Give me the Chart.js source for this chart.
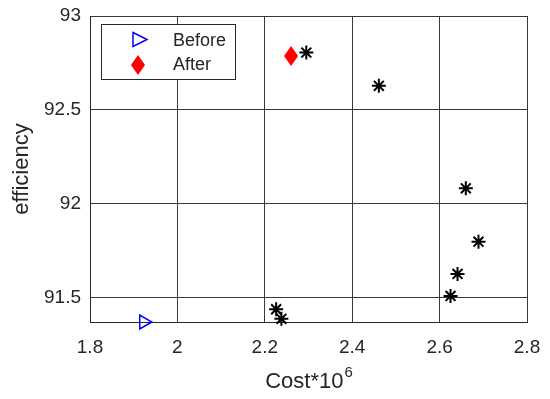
<!DOCTYPE html>
<html lang="en">
<head>
  <meta charset="UTF-8">
  <title>Cost vs efficiency</title>
  <script src="https://cdn.jsdelivr.net/npm/chart.js"></script>
  <style>
    html, body { margin: 0; padding: 0; background: #fff; }
    #wrap { width: 550px; height: 399px; position: relative; }
  </style>
</head>
<body>
  <div id="wrap"><canvas id="myChart"></canvas></div>

  <script>
    // values
    var beforeCost = [1.923];
    var beforeEff = [91.37];
    var afterCost = [2.26];
    var afterEff = [92.787];
    var paretoCost = [2.295, 2.461, 2.660, 2.689, 2.641, 2.625, 2.226, 2.238];
    var paretoEff = [92.805, 92.628, 92.082, 91.798, 91.626, 91.509, 91.438, 91.387];
    var xTicks = [1.8, 2, 2.2, 2.4, 2.6, 2.8];
    var yTicks = [91.5, 92, 92.5, 93];

    var FONT = "'Liberation Sans', Arial, sans-serif";
    var TXT = '#262626';

    function toPoints(xs, ys) {
      return xs.map(function (x, i) { return { x: x, y: ys[i] }; });
    }

    // tall red diamond like the matlab marker
    function makeDiamond(w, h) {
      var c = document.createElement('canvas');
      c.width = w; c.height = h;
      var g = c.getContext('2d');
      g.fillStyle = '#ff0000';
      g.beginPath();
      g.moveTo(w / 2, 0);
      g.lineTo(w, h / 2);
      g.lineTo(w / 2, h);
      g.lineTo(0, h / 2);
      g.closePath();
      g.fill();
      return c;
    }
    var diamond = makeDiamond(14, 20);

    function drawTriangle(ctx, x, y) {
      ctx.save();
      ctx.strokeStyle = '#0000ff';
      ctx.lineWidth = 1.5;
      ctx.beginPath();
      ctx.moveTo(x - 6, y - 7);
      ctx.lineTo(x + 8, y);
      ctx.lineTo(x - 6, y + 7);
      ctx.closePath();
      ctx.stroke();
      ctx.restore();
    }

    var extras = {
      id: 'extras',
      afterDraw: function (chart) {
        var ctx = chart.ctx;
        var a = chart.chartArea;
        ctx.save();

        // legend box
        var lx = 101, ly = 24, lw = 134, lh = 55;
        ctx.fillStyle = '#fff';
        ctx.fillRect(lx, ly, lw, lh);
        ctx.strokeStyle = '#262626';
        ctx.lineWidth = 1;
        ctx.strokeRect(lx + 0.5, ly + 0.5, lw, lh);
        drawTriangle(ctx, 139, 39.5);
        ctx.drawImage(diamond, 131, 55);
        ctx.fillStyle = TXT;
        ctx.font = '18px ' + FONT;
        ctx.textBaseline = 'middle';
        ctx.textAlign = 'left';
        ctx.fillText('Before', 173, 41);
        ctx.fillText('After', 173, 65);

        // x title with superscript
        ctx.font = '22px ' + FONT;
        ctx.textAlign = 'left';
        ctx.textBaseline = 'alphabetic';
        var base = 'Cost*10';
        var w1 = ctx.measureText(base).width;
        ctx.font = '15px ' + FONT;
        var w2 = ctx.measureText('6').width;
        var sx = (a.left + a.right) / 2 - (w1 + w2) / 2;
        ctx.font = '22px ' + FONT;
        ctx.fillText(base, sx, 388);
        ctx.font = '15px ' + FONT;
        ctx.fillText('6', sx + w1 + 1, 377);

        // y title
        ctx.translate(22, (a.top + a.bottom) / 2);
        ctx.rotate(-Math.PI / 2);
        ctx.font = '22px ' + FONT;
        ctx.textAlign = 'center';
        ctx.textBaseline = 'middle';
        ctx.fillText('efficiency', 0, 0);
        ctx.restore();
      }
    };

    function plain(v) { return String(Math.round(v * 10) / 10); }

    var ctx = document.getElementById('myChart').getContext('2d');

    var myChart = new Chart(ctx, {
      type: 'scatter',
      data: {
        datasets: [
          {
            label: 'Before',
            data: toPoints(beforeCost, beforeEff),
            pointStyle: 'triangle',
            rotation: 90,
            radius: 8,
            borderColor: '#0000ff',
            backgroundColor: 'rgba(0,0,0,0)',
            borderWidth: 1.5,
            clip: false
          },
          {
            label: 'After',
            data: toPoints(afterCost, afterEff),
            pointStyle: diamond,
            clip: false
          },
          {
            label: 'Solutions',
            data: toPoints(paretoCost, paretoEff),
            pointStyle: 'star',
            radius: 7,
            borderColor: '#000',
            backgroundColor: '#000',
            borderWidth: 2,
            clip: false
          }
        ]
      },
      options: {
        responsive: true,
        maintainAspectRatio: false,
        animation: false,
        layout: { autoPadding: false, padding: { left: 0, top: 16, right: 23, bottom: 0 } },
        plugins: {
          legend: { display: false },
          tooltip: { enabled: false }
        },
        scales: {
          x: {
            type: 'linear',
            min: 1.8,
            max: 2.8,
            afterBuildTicks: function (axis) {
              axis.ticks = xTicks.map(function (v) { return { value: v }; });
            },
            afterFit: function (axis) {
              axis.height = 77;
              axis.paddingLeft = 0;
              axis.paddingRight = 0;
            },
            grid: { color: '#3a3a3a', lineWidth: 1, tickLength: 0 },
            border: { color: '#262626', width: 1 },
            ticks: { color: TXT, font: { family: FONT, size: 19 }, padding: 14, maxRotation: 0, callback: plain }
          },
          y: {
            type: 'linear',
            min: 91.37,
            max: 93,
            afterBuildTicks: function (axis) {
              axis.ticks = yTicks.map(function (v) { return { value: v }; });
            },
            afterFit: function (axis) {
              axis.width = 90;
              axis.paddingTop = 0;
              axis.paddingBottom = 0;
            },
            grid: { color: '#3a3a3a', lineWidth: 1, tickLength: 0 },
            border: { color: '#262626', width: 1 },
            ticks: { color: TXT, font: { family: FONT, size: 19 }, padding: 9, callback: plain }
          }
        }
      },
      plugins: [extras]
    });
  </script>
</body>
</html>
